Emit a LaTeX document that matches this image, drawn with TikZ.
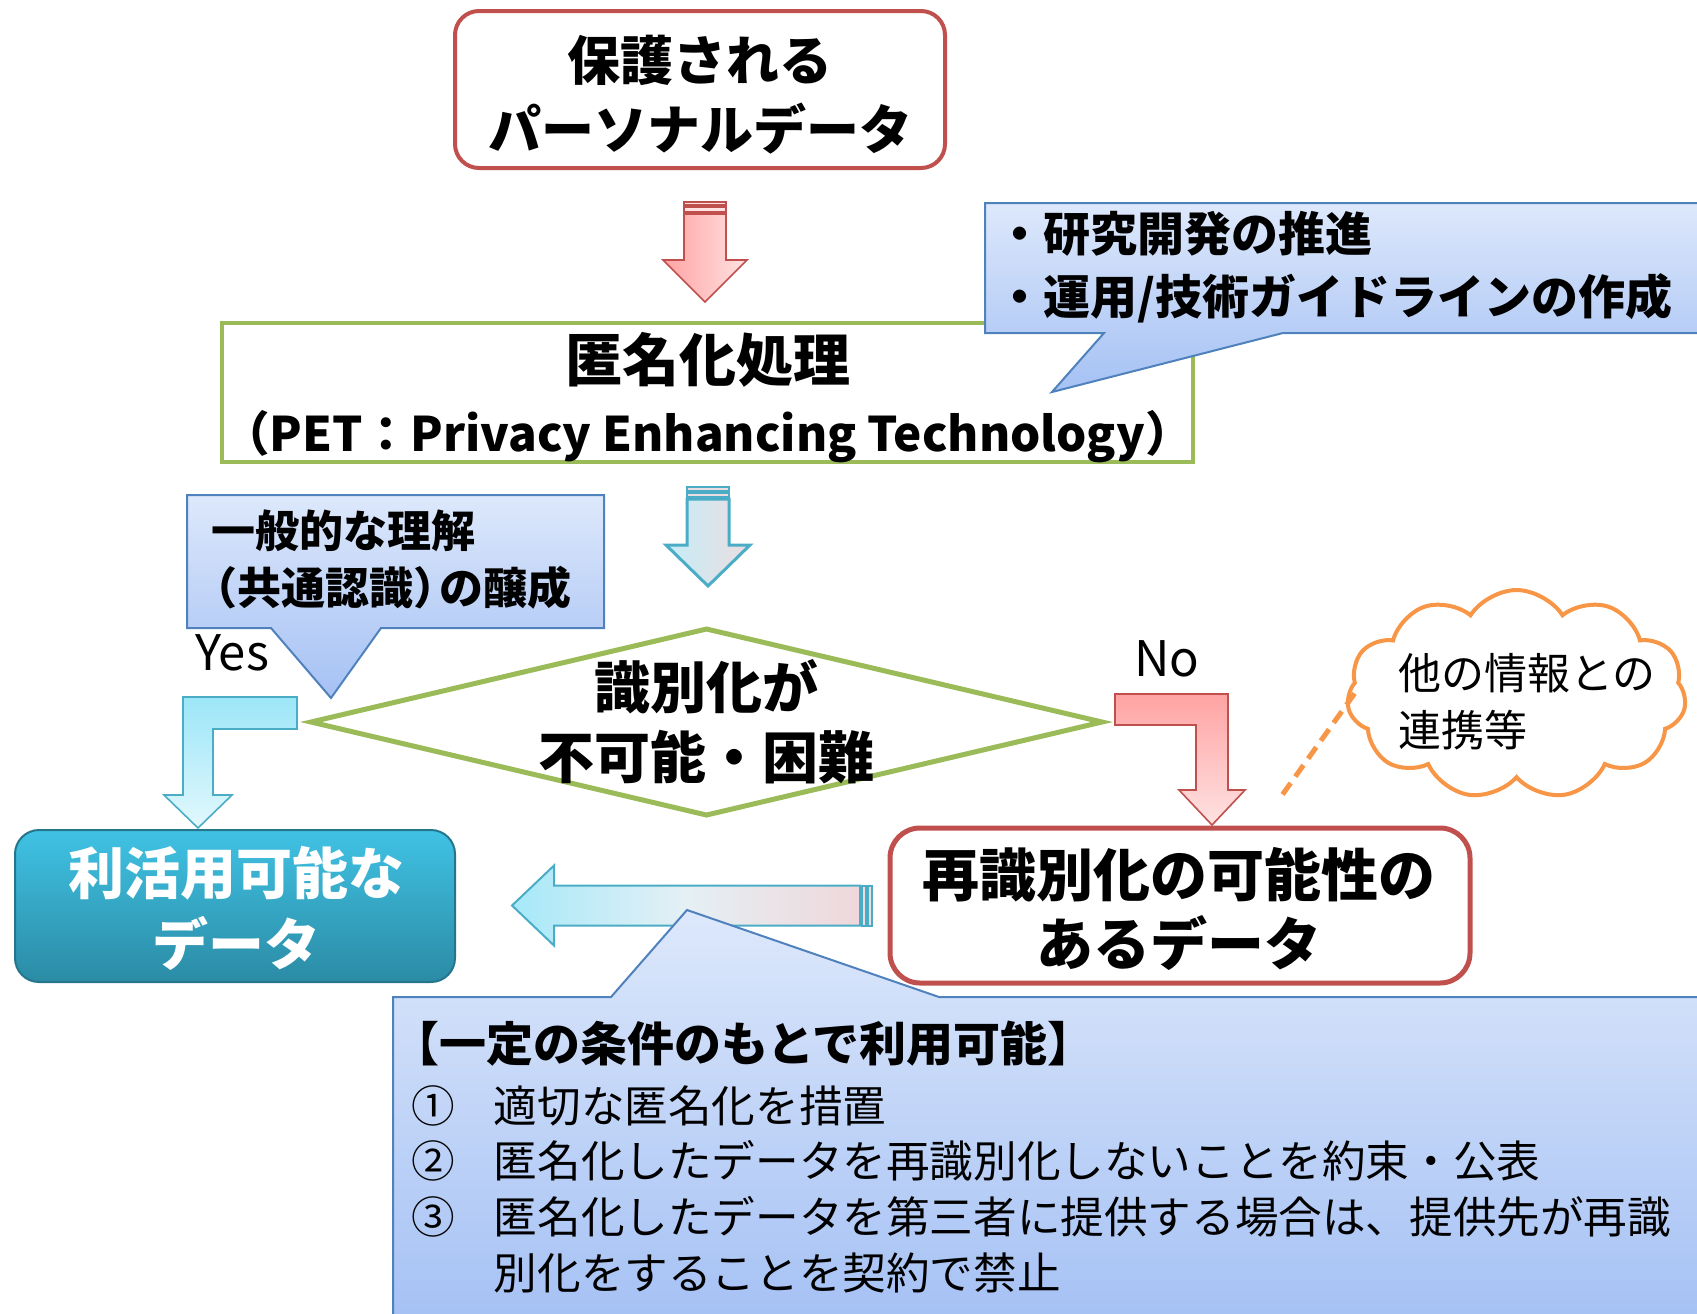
\documentclass[tikz,border=0pt]{standalone}
\usepackage{fontspec}
\setmainfont{Noto Sans CJK JP}
\usetikzlibrary{calc, shapes.geometric, shapes.symbols}

\definecolor{pdred}{HTML}{C0504D}
\definecolor{pdgreen}{HTML}{9BBB59}
\definecolor{pdblue}{HTML}{4F81BD}
\definecolor{pdteal}{HTML}{4BACC6}
\definecolor{pdorange}{HTML}{F79646}
\definecolor{calltop}{HTML}{DDE8FB}
\definecolor{callbot}{HTML}{A5C1F4}
\definecolor{pinkdark}{HTML}{FFA3A3}
\definecolor{pinklight}{HTML}{FFE2E2}
\definecolor{cyandark}{HTML}{9CE6F8}
\definecolor{cyanlight}{HTML}{E2F8FD}
\definecolor{cyanmid}{HTML}{C6EDF7}
\definecolor{pinkgray}{HTML}{EBDDE1}
\definecolor{usetop}{HTML}{40C2E4}
\definecolor{usebot}{HTML}{2B8BA5}

\begin{document}
\begin{tikzpicture}[
        x=0.5pt, y=-0.5pt,
        every node/.style={inner sep=0pt, outer sep=0pt},
        bigtxt/.style={font=\fontsize{28}{34.5}\selectfont\bfseries, align=center},
        datbox/.style={draw=pdred, line width=2.5pt, rounded corners=14pt, fill=white},
        petbox/.style={draw=pdgreen, line width=2pt, fill=white},
        callshape/.style={draw=pdblue, line width=1pt, top color=calltop, bottom color=callbot},
        calltxt/.style={anchor=west, align=left, font=\fontsize{23.5}{31.5}\selectfont\bfseries},
        yntxt/.style={font=\fontsize{24.5}{28}\selectfont},
        redarr/.style={draw=pdred, line width=0.8pt, left color=pinkdark, right color=pinklight},
        redstripe/.style={draw=pdred, line width=0.8pt, fill=pinklight},
        noarr/.style={draw=pdred, line width=0.8pt, top color=pinkdark, bottom color=pinklight},
        tealarr/.style={draw=pdteal, line width=1.5pt, left color=cyanmid, right color=pinkgray},
        tealstripe/.style={draw=pdteal, line width=1pt, fill=pinkgray},
        yesarr/.style={draw=pdteal, line width=0.8pt, top color=cyandark, bottom color=cyanlight},
        backarr/.style={draw=pdteal, line width=1pt, left color=cyandark!90, right color=pinkgray!80!pink, middle color=cyanlight!70!pinkgray},
        linkdash/.style={draw=pdorange, line width=2.5pt, dash pattern=on 7pt off 4pt},
    ]
    \useasboundingbox (0,0) rectangle (1697,1313);

    %% ===== Personal data =====
    \node[datbox, line width=2pt, rounded corners=12pt, minimum width=245pt, minimum height=78.5pt] (toppd) at (700,89.5) {};
    \node[bigtxt, font=\fontsize{26.5}{34.5}\selectfont\bfseries] (toptxt) at ($(toppd)+(0,5)$) {保護される\\パーソナルデータ};

    %% ===== Anonymization =====
    \node[petbox, minimum width=485.5pt, minimum height=69.5pt] (pet) at (707.5,392.5) {};
    \node[bigtxt, font=\fontsize{28.5}{35}\selectfont\bfseries] (pettxt) at ($(pet)+(0,5.5)$)
        {匿名化処理\\\fontsize{23.8}{35}\selectfont （PET：Privacy Enhancing Technology）};

    %% red striped arrow
    \coordinate (ra1) at ($(toppd.south)+(5,34)$);
    \coordinate (ra2) at ($(pet.north)+(-2.5,-21)$);
    \draw[redarr] ($(ra1)+(-21,12)$) -| ($(ra2)+(21,-42)$) -- ++(21,0) -- (ra2) -- ++(-42,-42) -- ++(21,0) -- cycle;
    \draw[redstripe] ($(ra1)+(-21,0)$) rectangle ($(ra1)+(21,3)$);
    \draw[redstripe] ($(ra1)+(-21,5)$) rectangle ($(ra1)+(21,10)$);

    %% callout: research / guidelines
    \path[callshape] (985,203) -- (1705,203) -- (1705,333) -- (1283,333) -- (1052,392) -- (1104,333) -- (985,333) -- cycle;
    \node[calltxt] (devtext) at (996,267.5) {・研究開発の推進\\・運用/技術ガイドラインの作成};

    %% ===== Decision =====
    \node[diamond, draw=pdgreen, line width=2.5pt, fill=white, minimum width=395.5pt, minimum height=93pt] (dia) at (706.5,722) {};
    \node[bigtxt, font=\fontsize{28}{35}\selectfont\bfseries] (diatext) at (dia) {識別化が\\不可能・困難};

    %% teal striped arrow
    \coordinate (ta1) at ($(pet.south)+(0.5,25)$);
    \coordinate (ta2) at ($(dia.north)+(1.5,-43)$);
    \draw[tealarr] ($(ta1)+(-21,12)$) -| ($(ta2)+(21,-41)$) -- ++(21,0) -- (ta2) -- ++(-42,-41) -- ++(21,0) -- cycle;
    \draw[tealstripe] ($(ta1)+(-21,0)$) rectangle ($(ta1)+(21,4)$);
    \draw[tealstripe] ($(ta1)+(-21,6)$) rectangle ($(ta1)+(21,10)$);

    %% callout: common understanding
    \path[callshape] (187,495) -- (604,495) -- (604,628) -- (381,628) -- (331,698) -- (271,628) -- (187,628) -- cycle;
    \node[calltxt, font=\fontsize{22}{28.5}\selectfont\bfseries] (undtext) at (211,559.5)
        {一般的な理解\\\hspace*{-0.4em}（共通認識）\kern-0.4emの醸成};

    \node[yntxt] (yes) at (232,653) {Yes};
    \node[yntxt] (no) at (1167,659) {No};

    %% ===== Results =====
    \node[datbox, draw=usebot!85!black, line width=1pt, rounded corners=12pt, top color=usetop, bottom color=usebot,
          minimum width=220pt, minimum height=76pt] (usable) at (235,906) {};
    \node[bigtxt, font=\fontsize{28}{35.5}\selectfont\bfseries, text=white] (usetxt) at ($(usable)+(1.5,2)$) {利活用可能な\\データ};
    \node[datbox, rounded corners=15pt, minimum width=290pt, minimum height=77.5pt] (reid) at (1180,905.5) {};
    \node[bigtxt, font=\fontsize{28.5}{34.5}\selectfont\bfseries] (reidtxt) at ($(reid)+(-1.5,3)$) {再識別化の可能性の\\あるデータ};

    %% yes / no bent arrows
    \coordinate (yesA) at ($(dia.west)+(-14,-25)$);
    \coordinate (yesB) at ($(dia.west)+(-14,7)$);
    \coordinate (yesT) at ($(usable.north)+(-37,-2)$);
    \draw[yesarr] (yesA) -- (yesB) -| ($(yesT)+(15,-33)$) -- ++(19,0) -- (yesT) -- ++(-34,-33) -- ++(19,0) |- (yesA) -- cycle;

    \coordinate (noA) at ($(dia.east)+(13,-28)$);
    \coordinate (noB) at ($(dia.east)+(13,3)$);
    \coordinate (noT) at ($(reid.north)+(32,-3)$);
    \draw[noarr] (noA) -| ($(noT)+(16,-35)$) -- ++(17,0) -- (noT) -- ++(-33,-35) -- ++(17,0) |- (noB) -- cycle;

    %% other information
    \node[cloud, draw=pdorange, line width=2pt, fill=white, cloud puffs=11, cloud puff arc=115, cloud ignores aspect,
          minimum width=169.5pt, minimum height=104.5pt] (cloud) at (1516.5,694.5) {};
    \node[anchor=west, align=left, font=\fontsize{21.5}{28.5}\selectfont] (cloudtxt) at (1398,701.5) {他の情報との\\連携等};
    \draw[linkdash] ($(cloud.west)+(6,-1)$) -- ($(reid.north)+(100,-30)$);

    %% back arrow
    \coordinate (ha1) at ($(reid.west)+(-18,0)$);
    \coordinate (ha2) at ($(usable.east)+(57,-0.5)$);
    \draw[backarr] ($(ha1)+(-12,-20)$) -| ($(ha2)+(42,-40)$) -- (ha2) -- ++(42,40) -- ++(0,-20) -- ($(ha1)+(-12,20)$) -- cycle;
    \draw[tealstripe, fill=pinkgray] ($(ha1)+(-10,-20)$) rectangle ($(ha1)+(-6,20)$);
    \draw[tealstripe, fill=pinkgray] ($(ha1)+(-4,-20)$) rectangle ($(ha1)+(0,20)$);

    %% callout: conditions
    \path[callshape] (393,997) -- (611,997) -- (687,910) -- (939,997) -- (1705,997) -- (1705,1320) -- (393,1320) -- cycle;
    \node[calltxt, font=\fontsize{23.5}{28}\selectfont\bfseries] (condhead) at (392,1044) {【一定の条件のもとで利用可能】};
    \node[calltxt, font=\fontsize{21.8}{27.8}\selectfont] (condlist) at (411,1189)
        {\makebox[1.9em][l]{①}適切な匿名化を措置\\
         \makebox[1.9em][l]{②}匿名化したデータを再識別化しないことを約束・公表\\
         \makebox[1.9em][l]{③}匿名化したデータを第三者に提供する場合は、提供先が再識\\
         \hspace*{1.9em}別化をすることを契約で禁止};

\end{tikzpicture}
\end{document}
